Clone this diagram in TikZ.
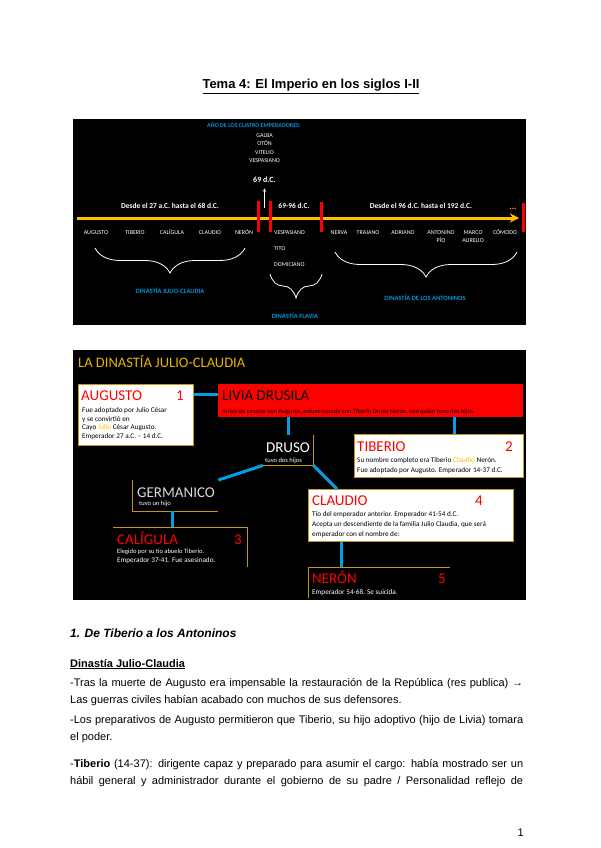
\documentclass[tikz,border=0pt]{standalone}
\usepackage{fontspec}
\setmainfont{Liberation Sans}
\newfontfamily\calibri{Carlito}
\usetikzlibrary{decorations.pathreplacing}

\definecolor{azul}{RGB}{0,160,230}
\definecolor{azultxt}{RGB}{0,150,220}
\definecolor{dorado}{RGB}{196,150,20}
\definecolor{oro}{RGB}{230,180,0}
\definecolor{naranja}{RGB}{255,192,0}
\definecolor{rojo}{RGB}{255,0,0}
\definecolor{gris}{RGB}{217,217,217}

\newcommand{\tam}[1]{\fontsize{#1}{#1}\selectfont}

\begin{document}
\begin{tikzpicture}[x=1pt, y=-1pt, >=stealth,
    emp/.style={inner sep=0pt, anchor=base, text=white, font=\calibri\tam{6}},
    periodo/.style={inner sep=0pt, anchor=base, text=white, font=\calibri\bfseries\tam{7.5}},
    dinastia/.style={inner sep=0pt, anchor=base, text=azultxt, font=\calibri\bfseries\tam{6.5}},
    barra/.style={rojo, line width=3pt},
    llave/.style={white, line width=0.8pt, decorate},
    caja/.style={draw=dorado, fill=white, line width=1pt, inner sep=0pt, anchor=north west},
    hueco/.style={inner sep=0pt, anchor=north west},
    borde/.style={dorado, line width=1pt},
    conector/.style={azul, line width=3pt},
    rey/.style={inner sep=0pt, anchor=base west, text=rojo, font=\calibri\tam{15}},
    num/.style={inner sep=0pt, anchor=base east, text=rojo, font=\calibri\tam{15}},
    nota/.style={inner sep=0pt, anchor=base west, font=\calibri\tam{7.2}},
    parrafo/.style={inner sep=0pt, anchor=north west, text width=453pt, align=justify, font=\fontsize{11}{17}\selectfont}]

  % Pagina
  \fill[white] (0,0) rectangle (600,848);
  \useasboundingbox (0,0) rectangle (600,848);

  \node[inner sep=0pt, anchor=base, font=\fontsize{13}{15}\selectfont\bfseries] (titulo) at (311,89)
    {\underline{Tema 4: El Imperio en los siglos I-II}};

  %-------------------------------------
  % LINEA DEL TIEMPO
  %-------------------------------------
  \fill[black] (72.5,119) rectangle (525.5,325);

  % Año de los cuatro emperadores
  \node[inner sep=0pt, anchor=base west, text=azultxt, font=\calibri\bfseries\tam{6}] (anio) at (207,128)
    {AÑO DE LOS CUATRO EMPERADORES:};
  \node[emp] (galba) at (264.5,137) {GALBA};
  \node[emp] (oton) at (264.5,145.5) {OTÓN};
  \node[emp] (vitelio) at (264.5,154) {VITELIO};
  \node[emp] (vespa) at (264.5,162.5) {VESPASIANO};
  \node[inner sep=0pt, anchor=base, text=white, font=\calibri\bfseries\tam{8}] (d69) at (264.5,182) {69 d.C.};
  \coordinate (pie69) at (264.5,208);
  \draw[->, white, line width=0.6pt] (pie69) -- ([yshift=-6pt]d69.south);

  % Eje con flecha
  \coordinate (ini) at (77,218);
  \coordinate (fin) at (519,218);
  \draw[->, naranja, line width=3pt] (ini) -- (fin);

  % Cortes entre dinastias
  \draw[barra] (258.5,201) -- (258.5,232);
  \draw[barra] (270.5,201) -- (270.5,232);
  \draw[barra] (321,202) -- (321,232);
  \draw[barra] (523,203) -- (523,232);

  \node[periodo] (per1) at (170,208) {Desde el 27 a.C. hasta el 68 d.C.};
  \node[periodo] (per2) at (294,208) {69-96 d.C.};
  \node[periodo] (per3) at (421,208) {Desde el 96 d.C. hasta el 192 d.C.};
  \node[inner sep=0pt, anchor=base, text=naranja, font=\calibri\bfseries\tam{9}] (puntos) at (513,209) {...};

  % Emperadores
  \foreach \x/\n in {96/AUGUSTO, 135/TIBERIO, 172/CALÍGULA, 210/CLAUDIO, 244/NERÓN,
                     339/NERVA, 368/TRAJANO, 403/ADRIANO, 441/ANTONINO, 473/MARCO, 505/CÓMODO}
    \node[emp] (e\x) at (\x,234.5) {\n};
  \node[emp] (pio) at (441,242.5) {PÍO};
  \node[emp] (aurelio) at (473,242.5) {AURELIO};
  \node[emp, anchor=base west] (vespasiano) at (274,234.5) {VESPASIANO};
  \node[emp, anchor=base west] (tito) at (274,250) {TITO};
  \node[emp, anchor=base west] (domiciano) at (274,266) {DOMICIANO};

  % Llaves
  \draw[llave, decoration={brace, mirror, amplitude=25pt}] (95,248) -- (245,248);
  \draw[llave, decoration={brace, mirror, amplitude=24pt}] (270,274) -- (322,274);
  \draw[llave, decoration={brace, mirror, amplitude=25pt}] (335,252) -- (517,252);

  \node[dinastia] (julioclaudia) at (170,293) {DINASTÍA JULIO-CLAUDIA};
  \node[dinastia] (flavia) at (295,318) {DINASTÍA FLAVIA};
  \node[dinastia] (antoninos) at (425,300) {DINASTÍA DE LOS ANTONINOS};

  %-------------------------------------
  % ARBOL JULIO-CLAUDIO
  %-------------------------------------
  \fill[black] (72.5,350) rectangle (525.5,600);
  \node[inner sep=0pt, anchor=base west, text=oro, font=\calibri\tam{14.5}] (tituloarbol) at (78,367)
    {LA DINASTÍA JULIO-CLAUDIA};

  % Cajas
  \node[caja, minimum width=115, minimum height=61] (augusto) at (78,384) {};
  \node[hueco, fill=rojo, minimum width=305, minimum height=33] (livia) at (218,384) {};
  \node[hueco, minimum width=50, minimum height=30] (druso) at (263,435) {};
  \node[caja, minimum width=169, minimum height=43] (tiberio) at (354,434) {};
  \node[hueco, minimum width=86, minimum height=31] (germanico) at (132,480) {};
  \node[caja, minimum width=205, minimum height=52] (claudio) at (308,489) {};
  \node[hueco, minimum width=134, minimum height=40] (caligula) at (113,527) {};
  \node[hueco, minimum width=142, minimum height=31] (neron) at (308,567) {};

  % Bordes abiertos
  \draw[borde] (druso.north east) -- (druso.south east) -- (druso.south west);
  \draw[borde] (germanico.north west) -- (germanico.south west) -- (germanico.south east);
  \draw[borde] (caligula.north west) -- (caligula.north east) -- (caligula.south east);
  \draw[borde] (neron.south west) -- (neron.north west) -- (neron.north east);

  % Conectores
  \coordinate (haciatib) at ([xshift=100pt]tiberio.north west);
  \coordinate (haciacal) at ([xshift=40pt]germanico.south west);
  \coordinate (hacianer) at ([xshift=33pt]claudio.south west);
  \draw[conector] ([yshift=-10pt]augusto.north east) -- ([yshift=-10pt]livia.north west);
  \draw[conector] (livia.south -| druso.north) -- (druso.north);
  \draw[conector] (livia.south -| haciatib) -- (haciatib);
  \draw[conector] (druso.south west) -- (germanico.north east);
  \draw[conector] (druso.south east) -- ([xshift=29pt]claudio.north west);
  \draw[conector] (haciacal) -- (haciacal |- caligula.north);
  \draw[conector] (hacianer) -- (hacianer |- neron.north);

  % Textos: Augusto
  \node[rey] (augn) at (81,400) {AUGUSTO};
  \node[num] (aug1) at (184,400) {1};
  \node[nota] (aug2) at (82,412) {Fue adoptado por Julio César};
  \node[nota] (aug3) at (82,421) {y se convirtió en};
  \node[nota] (aug4) at (82,429.5) {Cayo \textcolor{naranja}{Julio} César Augusto.};
  \node[nota] (aug5) at (82,438) {Emperador 27 a.C. – 14 d.C.};

  % Livia
  \node[rey, text=black] (livn) at (222,400) {LIVIA DRUSILA};
  \node[nota, font=\calibri\tam{6.5}] (liv2) at (222,413)
    {Antes de casarse con Augusto, estuvo casada con Tiberio Druso Nerón, con quien tuvo dos hijos.};

  % Druso
  \node[inner sep=0pt, anchor=base, text=white, font=\calibri\tam{15}] (drusn) at (288,452) {DRUSO};
  \node[nota, text=white, font=\calibri\tam{6.5}] (drus2) at (265,462) {tuvo dos hijos};

  % Tiberio
  \node[rey] (tibn) at (357,451) {TIBERIO};
  \node[num] (tib1) at (513,451) {2};
  \node[nota] (tib2) at (357,462) {Su nombre completo era Tiberio \textcolor{naranja}{Claudio} Nerón.};
  \node[nota] (tib3) at (357,472) {Fue adoptado por Augusto. Emperador 14-37 d.C.};

  % Germanico
  \node[rey, text=gris] (gern) at (137,497) {GERMANICO};
  \node[nota, text=white, font=\calibri\tam{6.5}] (ger2) at (139,505) {tuvo un hijo};

  % Caligula
  \node[rey] (caln) at (117,544) {CALÍGULA};
  \node[num] (cal1) at (242,544) {3};
  \node[nota, text=white, font=\calibri\tam{6.5}] (cal2) at (117,553) {Elegido por su tío abuelo Tiberio.};
  \node[nota, text=white] (cal3) at (117,562) {Emperador 37-41. Fue asesinado.};

  % Claudio
  \node[rey] (clan) at (312,505) {CLAUDIO};
  \node[num] (cla1) at (483,505) {4};
  \node[nota] (cla2) at (312,516) {Tío del emperador anterior. Emperador 41-54 d.C.};
  \node[nota] (cla3) at (312,526) {Acepta un descendiente de la familia Julio Claudia, que será};
  \node[nota] (cla4) at (312,536) {emperador con el nombre de:};

  % Neron
  \node[rey] (nern) at (312,583) {NERÓN};
  \node[num] (ner1) at (446,583) {5};
  \node[nota, text=white] (ner2) at (312,594) {Emperador 54-68. Se suicida.};

  %-------------------------------------
  % TEXTO
  %-------------------------------------
  \node[inner sep=0pt, anchor=base west, font=\fontsize{12}{14}\selectfont\bfseries\itshape] (apartado) at (70,637)
    {1. De Tiberio a los Antoninos};
  \node[inner sep=0pt, anchor=base west, font=\fontsize{11}{13}\selectfont\bfseries] (subapartado) at (70,667)
    {\underline{Dinastía Julio-Claudia}};

  \node[parrafo] (par1) at (70,674)
    {\strut-Tras la muerte de Augusto era impensable la restauración de la República (res publica) →\linebreak
     Las guerras civiles habían acabado con muchos de sus defensores.};
  \node[parrafo] (par2) at (70,711)
    {\strut-Los preparativos de Augusto permitieron que Tiberio, su hijo adoptivo (hijo de Livia) tomara\linebreak
     el poder.};
  \node[parrafo] (par3) at (70,755)
    {\strut-\textbf{Tiberio} (14-37): dirigente capaz y preparado para asumir el cargo: había mostrado ser un\linebreak
     \makebox[453pt][s]{hábil general y administrador durante el gobierno de su padre / Personalidad reflejo de}};

  \node[inner sep=0pt, anchor=base east, font=\fontsize{11}{13}\selectfont] (pagina) at (524,836) {1};

\end{tikzpicture}
\end{document}
